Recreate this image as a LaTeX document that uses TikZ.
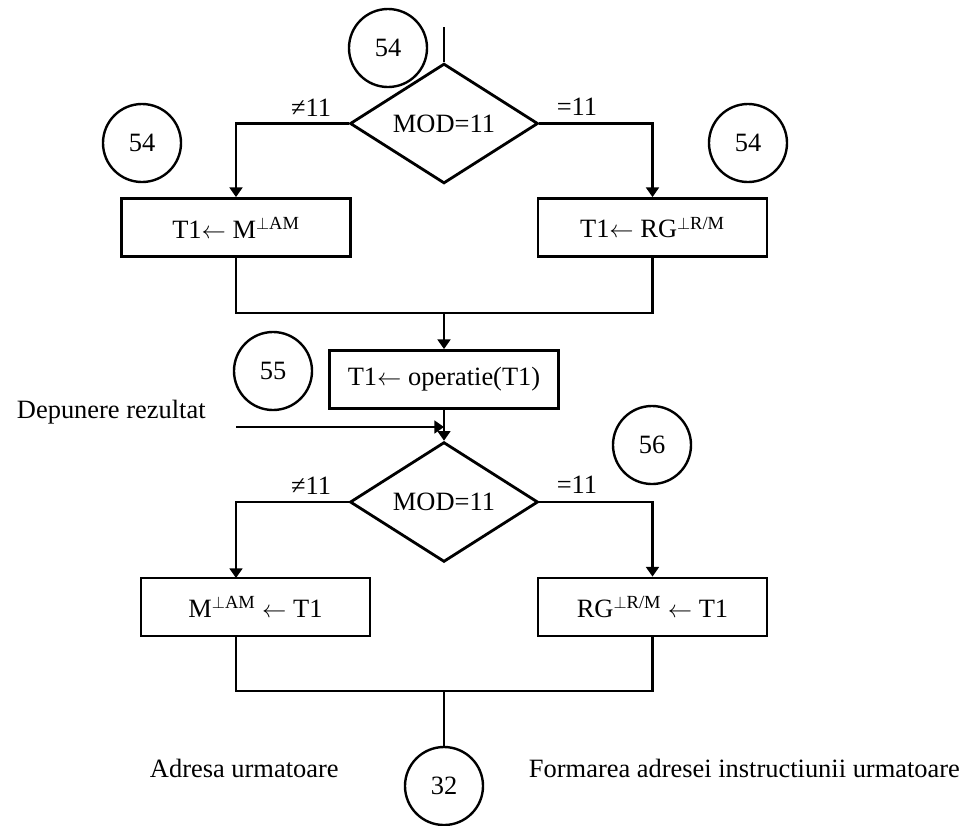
\documentclass[tikz,border=0pt]{standalone}
\usepackage{fontspec}
\setmainfont{Liberation Serif}
\usetikzlibrary{positioning,shapes.geometric,arrows.meta}

\begin{document}
\begin{tikzpicture}[x=0.025cm, y=-0.025cm, font=\fontsize{18.8}{22}\selectfont,
    bloc/.style={rectangle, draw, line width=2pt, minimum width=5.72cm, minimum height=1.45cm, inner sep=2pt},
    test/.style={diamond, draw, line width=2pt, minimum width=4.7cm, minimum height=1.93cm, inner sep=0pt},
    eticheta/.style={circle, draw, line width=1.7pt, minimum size=1.95cm, inner sep=0pt},
    fir/.style={line width=1.5pt},
    sageata/.style={fir, -{Triangle[length=2.4mm, width=3.2mm]}}]
        \useasboundingbox (0,0) rectangle (960,825);

        % Citire operand
        \coordinate (start) at (444,27);
        \node[eticheta] (c54a) at (388,48) {54};
        \node[test] (mod1) at (444,123.5) {MOD=11};
        \node[anchor=base] (ne1) at (311,116) {≠11};
        \node[anchor=base] (eq1) at (577,115) {=11};
        \node[eticheta] (c54b) at (142,143) {54};
        \node[eticheta] (c54c) at (748,143) {54};
        \node[bloc] (citM) at (236,227.5) {T1$\leftarrow$ M\textsuperscript{$\perp$AM}};
        \node[bloc] (citRG) at (652.5,227.5) {T1$\leftarrow$ RG\textsuperscript{$\perp$R/M}};
        \coordinate (j1) at (444,313);

        % Operatie
        \node[eticheta] (c55) at (273,371) {55};
        \node[bloc] (oper) at (444,379.5) {T1$\leftarrow$ operatie(T1)};
        \node[anchor=base west] (dep) at (12,418) {Depunere rezultat};
        \coordinate (depstart) at (236,427);
        \coordinate (intr) at (444,427);

        % Depunere rezultat
        \node[eticheta] (c56) at (652,445) {56};
        \node[test] (mod2) at (444,502) {MOD=11};
        \node[anchor=base] (ne2) at (311,494) {≠11};
        \node[anchor=base] (eq2) at (577,493) {=11};
        \node[bloc] (stocM) at (255.5,607) {M\textsuperscript{$\perp$AM} $\leftarrow$ T1};
        \node[bloc] (stocRG) at (652.5,607) {RG\textsuperscript{$\perp$R/M} $\leftarrow$ T1};
        \coordinate (inM) at (236,578);
        \coordinate (outM) at (236,636);
        \coordinate (j2) at (444,691);

        % Adresa urmatoare
        \node[eticheta] (c32) at (444,786) {32};
        \node[anchor=base west] (adr) at (145,777) {Adresa urmatoare};
        \node[anchor=base west] (form) at (524,777) {Formarea adresei instructiunii urmatoare};

        % Legaturi
        \draw[fir] (start) -- (mod1.north);
        \draw[sageata] (mod1.west) -| (citM.north);
        \draw[sageata] (mod1.east) -| (citRG.north);
        \draw[fir] (citM.south) |- (j1);
        \draw[fir] (citRG.south) |- (j1);
        \draw[sageata] (j1) -- (oper.north);
        \draw[fir] (oper.south) -- (intr);
        \draw[sageata] (depstart) -- (intr);
        \draw[sageata] (intr) -- (mod2.north);
        \draw[sageata] (mod2.west) -| (inM);
        \draw[sageata] (mod2.east) -| (stocRG.north);
        \draw[fir] (outM) |- (j2);
        \draw[fir] (stocRG.south) |- (j2);
        \draw[fir] (j2) -- (c32.north);
    \end{tikzpicture}
\end{document}
